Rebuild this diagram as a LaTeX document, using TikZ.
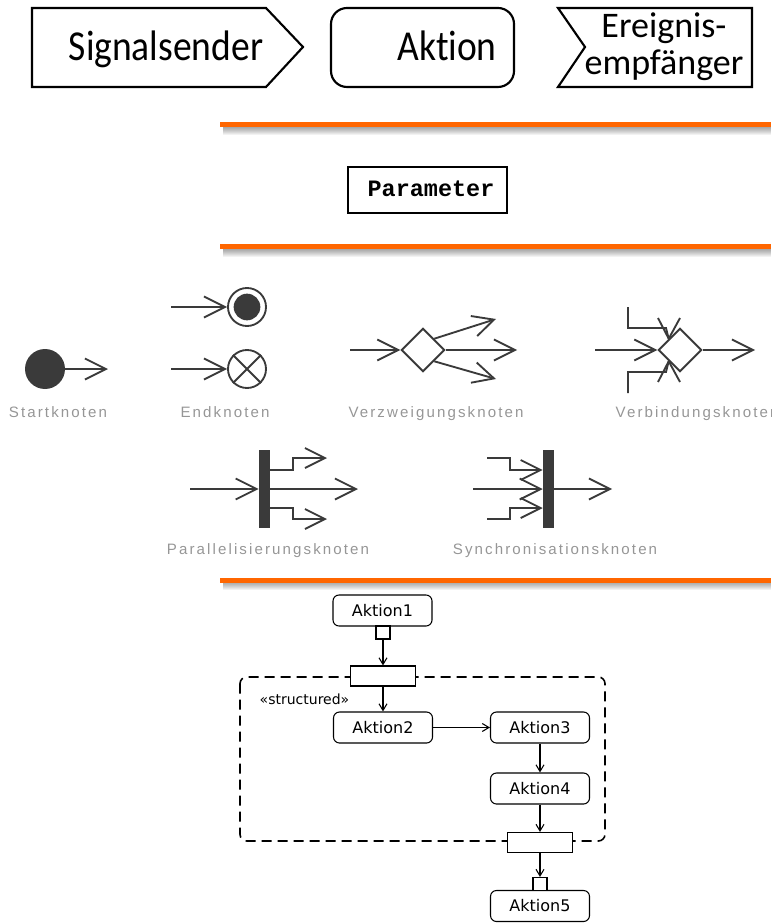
\documentclass[tikz,border=0pt]{standalone}
\usepackage{fontspec}
\setmainfont{Carlito}[Ligatures=NoCommon]
\newfontfamily\narrowfont{Carlito}[Ligatures=NoCommon,FakeStretch=0.88]
\newfontfamily\codefont{Liberation Mono}
\newfontfamily\lblfont[LetterSpace=14]{Liberation Sans}
\newfontfamily\umlfont{DejaVu Sans}
\usetikzlibrary{arrows.meta,shapes.geometric}
\definecolor{accent}{RGB}{255,102,0}
\definecolor{icon}{RGB}{58,58,58}
\definecolor{lblgray}{RGB}{150,150,150}
\begin{document}
\begin{tikzpicture}[x=0.75pt,y=-0.75pt,
  shapeline/.style={draw=black,line width=1.6pt,line join=miter},
  bigtext/.style={font=\narrowfont\fontsize{32}{32}\selectfont,anchor=base},
  iconline/.style={draw=icon,line width=1.4pt},
  bigv/.style={-{Straight Barb[length=15.75pt,width=15.75pt]}},
  midv/.style={-{Straight Barb[length=15pt,width=15pt]}},
  bar/.style={rectangle,fill=icon,minimum width=8.25pt,minimum height=58.5pt,inner sep=0pt},
  gate/.style={diamond,draw=icon,line width=1.4pt,minimum width=32.5pt,minimum height=32.5pt,inner sep=0pt},
  lbl/.style={font=\lblfont\fontsize{11.3}{12}\selectfont,text=lblgray,anchor=base},
  act/.style={draw,rounded corners=4.5pt,line width=0.8pt,minimum width=74.25pt,minimum height=23.25pt,inner sep=0pt,font=\umlfont\fontsize{12}{13}\selectfont},
  pin/.style={draw,fill=white,line width=0.8pt,minimum width=10.5pt,minimum height=9.75pt,inner sep=0pt},
  expbar/.style={draw,fill=white,line width=0.8pt,minimum width=48.75pt,minimum height=15pt,inner sep=0pt},
  flow/.style={draw,line width=0.8pt,-{Straight Barb[length=5pt,width=6pt]}}]
\useasboundingbox (0,0) rectangle (771,923);
\clip (0,0) rectangle (771,923);

% ---- action notation: send signal, action, accept event ----
\draw[shapeline] (32,8) -- (266,8) -- (303,47) -- (266,87) -- (32,87) -- cycle;
\node[bigtext] (send) at (166,61) {Signalsender};
\draw[shapeline,rounded corners=12] (331,8) rectangle (514,87);
\node[bigtext] (act) at (447,61) {Aktion};
\draw[shapeline] (558,8) -- (752,8) -- (752,87) -- (558,87) -- (585,47) -- cycle;
\node[font=\fontsize{27}{28}\selectfont,align=center] (recv) at (664,47) {Ereignis-\\empf\"anger};

% ---- separator rules with soft shadow ----
\foreach \yy in {125,247,580}{
  \foreach \k in {3,...,10}{
    \fill[black,opacity=0.05] (223,\yy+1) rectangle (771,\yy+\k);
  }
  \draw[accent,line width=3.75pt] (220,\yy) -- (771,\yy);
}

% ---- parameter ----
\draw[line width=1.5pt] (348,167) rectangle (507,213);
\node[anchor=base,font=\codefont\bfseries\fontsize{17.6}{18}\selectfont] (param) at (431,197) {Parameter};

% ---- initial node ----
\node[circle,fill=icon,minimum size=30pt,inner sep=0pt] (start) at (45,369) {};
\draw[iconline,bigv] (start) -- (108,369);
\node[lbl] at (58,417) {Startknoten};

% ---- final nodes ----
\node[circle,draw=icon,line width=1.4pt,minimum size=28.5pt,inner sep=0pt] (actend) at (247,307) {};
\node[circle,fill=icon,minimum size=20pt,inner sep=0pt] at (actend) {};
\coordinate (actendin) at (171,307);
\draw[iconline,bigv] (actendin) -- (actend.west);
\node[circle,draw=icon,line width=1.4pt,minimum size=28.5pt,inner sep=0pt] (flowend) at (247,369) {};
\draw[iconline] (flowend.north west) -- (flowend.south east) (flowend.north east) -- (flowend.south west);
\coordinate (flowendin) at (171,369);
\draw[iconline,bigv] (flowendin) -- (flowend.west);
\node[lbl] at (225,417) {Endknoten};

% ---- decision node ----
\node[gate] (dec) at (423,350) {};
\draw[iconline,bigv] (350,350) -- (dec.west);
\draw[iconline,bigv] (dec.east) -- (517,350);
\draw[iconline,bigv] (dec.north east) -- (496,319);
\draw[iconline,bigv] (dec.south east) -- (496,379);
\node[lbl] at (436,417) {Verzweigungsknoten};

% ---- merge node ----
\node[gate] (mrg) at (680,350) {};
\draw[iconline,bigv] (595,350) -- (mrg.west);
\draw[iconline,bigv] (mrg.east) -- (755,350);
\draw[iconline] (628,307) -- (628,328) -- (666,328) -- (mrg.north west);
\draw[iconline] (658,318) -- (mrg.north west) -- (680,318);
\draw[iconline] (628,393) -- (628,372) -- (666,372) -- (mrg.south west);
\draw[iconline] (658,382) -- (mrg.south west) -- (680,382);
\node[lbl,anchor=base west] at (611,417) {Verbindungsknoten};

% ---- fork node ----
\node[bar] (fork) at (264.5,489) {};
\draw[iconline,bigv] (190,489) -- (fork.west);
\draw[iconline,bigv] (fork.east) -- (358,489);
\draw[iconline,midv] (fork.east |- 0,470) -- (293,470) -- (293,458) -- (327,458);
\draw[iconline,midv] (fork.east |- 0,508) -- (293,508) -- (293,519) -- (327,519);
\node[lbl] at (268,554) {Parallelisierungsknoten};

% ---- join node ----
\node[bar] (join) at (548.5,489) {};
\draw[iconline,bigv] (473,489) -- (join.west);
\draw[iconline,midv] (487,458) -- (510,458) -- (510,470) -- (join.west |- 0,470);
\draw[iconline,midv] (487,519) -- (510,519) -- (510,508) -- (join.west |- 0,508);
\draw[iconline,bigv] (join.east) -- (612,489);
\node[lbl] at (555,554) {Synchronisationsknoten};

% ---- structured activity node ----
\draw[line width=1.2pt,dash pattern=on 7.5pt off 4.5pt,rounded corners=5] (240,677) rectangle (605,841);
\node[anchor=base west,font=\umlfont\fontsize{10.5}{12}\selectfont] (stereo) at (255,704) {«structured»};

\node[act] (a1) at (382.5,610.5) {Aktion1};
\node[pin] (p1) at (383,632.5) {};
\node[expbar] (b1) at (383,676) {};
\node[act] (a2) at (383,727.5) {Aktion2};
\node[act] (a3) at (540,727.5) {Aktion3};
\node[act] (a4) at (540,788.5) {Aktion4};
\node[expbar] (b2) at (540,842.5) {};
\node[act] (a5) at (540,906) {Aktion5};
\node[pin] (p2) at (540,884) {};

\draw[flow] (p1) -- (b1);
\draw[flow] (b1) -- (a2);
\draw[flow] (a2) -- (a3);
\draw[flow] (a3) -- (a4);
\draw[flow] (a4) -- (b2);
\draw[flow] (b2) -- (p2);
\end{tikzpicture}
\end{document}
